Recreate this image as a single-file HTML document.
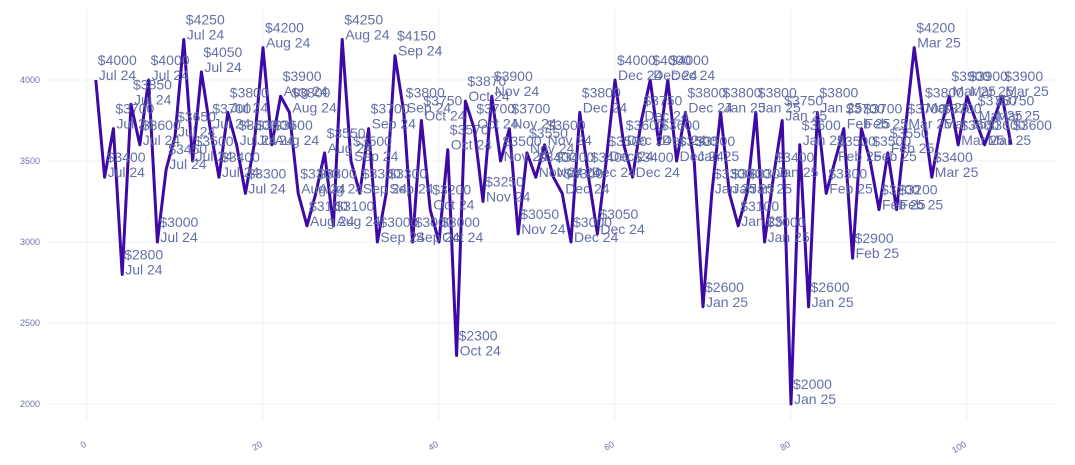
<!DOCTYPE html>
<html><head><meta charset="utf-8">
<style>
html,body{margin:0;padding:0;background:#fff;}
svg{display:block;font-family:"Liberation Sans",Arial,sans-serif;}
</style></head>
<body>
<svg id="chart" width="1075" height="465" viewBox="0 0 1075 465">
  <g id="grid"></g>
  <g id="yaxis"></g>
  <g id="xaxis"></g>
  <g id="series"></g>
  <g id="labels"></g>
</svg>
<script>
const prices = [4000,3400,3700,2800,3850,3600,4000,3000,3450,3650,4250,3500,4050,3700,3400,3800,3600,3300,3600,4200,3600,3900,3800,3300,3100,3300,3550,3100,4250,3500,3300,3700,3000,3300,4150,3800,3000,3750,3200,3000,3570,2300,3870,3700,3250,3900,3500,3700,3050,3550,3400,3600,3400,3300,3000,3800,3400,3050,3500,4000,3600,3400,3750,4000,3600,4000,3500,3800,3500,2600,3300,3800,3300,3100,3300,3800,3000,3400,3750,2000,3600,2600,3800,3300,3500,3700,2900,3700,3500,3200,3550,3200,3700,4200,3800,3400,3700,3900,3600,3900,3750,3600,3750,3900,3600];
const monthNames = ["Jul 24","Aug 24","Sep 24","Oct 24","Nov 24","Dec 24","Jan 25","Feb 25","Mar 25"];
const monthCounts = [19,10,8,7,9,15,15,9,12];
const yTicks = [2000,2500,3000,3500,4000];
const xTicks = [0,20,40,60,80,100];

const NS="http://www.w3.org/2000/svg";
const X0=87, XS=8.8, Y4000=80, YS=0.162;
const L=48, R=1057, T=10, B=420;
function xs(v){return X0+v*XS;}
function ys(v){return Y4000+(4000-v)*YS;}
function mk(tag,attrs,parent){const e=document.createElementNS(NS,tag);for(const k in attrs)e.setAttribute(k,attrs[k]);parent.appendChild(e);return e;}

const months=[];
monthCounts.forEach((c,i)=>{for(let j=0;j<c;j++)months.push(monthNames[i]);});

const grid=document.getElementById('grid');
yTicks.forEach(t=>{
  const ln=mk('line',{x1:L,x2:R,y1:ys(t),y2:ys(t),stroke:'#eef0f8','stroke-width':1},grid);
  
  
});
xTicks.forEach(t=>{
  const ln=mk('line',{x1:xs(t),x2:xs(t),y1:T,y2:B,stroke:'#eef0f8','stroke-width':1},grid);
  
  
});
const ya=document.getElementById('yaxis');
yTicks.forEach(t=>{
  const tx=mk('text',{x:40,y:ys(t)+3,'text-anchor':'end','font-size':9,fill:'#6f74a8'},ya);
  tx.textContent=t;
  
  
});
const xa=document.getElementById('xaxis');
xTicks.forEach(t=>{
  const tx=mk('text',{x:xs(t),y:446,'text-anchor':'end','font-size':9,fill:'#6f74a8',transform:`rotate(-30 ${xs(t)} 446)`},xa);
  tx.textContent=t;
  
  
});
const ser=document.getElementById('series');
const pts=prices.map((v,i)=>xs(i+1).toFixed(1)+','+ys(v).toFixed(1)).join(' ');
const pl=mk('polyline',{points:pts,fill:'none',stroke:'#3d0aa6','stroke-width':3,'stroke-linejoin':'round'},ser);


const lab=document.getElementById('labels');
prices.forEach((v,i)=>{
  const x=xs(i+1)+2, y=ys(v);
  const tx=mk('text',{x:x,'font-size':14,fill:'#5c67a3','fill-opacity':0.95},lab);
  
  
  const a=mk('tspan',{x:x,y:y-15},tx); a.textContent='$'+v;
  const b=mk('tspan',{x:x+1,y:y},tx); b.textContent=months[i];
});
</script>
</body></html>
